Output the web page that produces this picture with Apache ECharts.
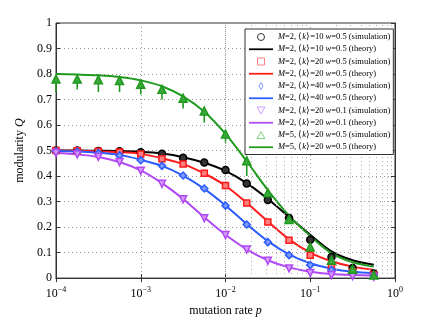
<!DOCTYPE html>
<html>
<head>
<meta charset="utf-8">
<script src="https://cdn.jsdelivr.net/npm/echarts@6/dist/echarts.min.js"></script>
<style>
  html, body { margin: 0; background: #fff; }
  #chart { width: 436px; height: 322px; }
</style>
</head>
<body>
<div id="chart"></div>
<script>
// mutation rates p (quarter-decade steps)
const rates = [1e-4, 1.78e-4, 3.16e-4, 5.62e-4, 1e-3, 1.78e-3, 3.16e-3, 5.62e-3,
  1e-2, 1.78e-2, 3.16e-2, 5.62e-2, 0.1, 0.178, 0.316, 0.562];

// M=2, <k>=10, w=0.5
const k10Sim = [0.5, 0.5, 0.498, 0.497, 0.493, 0.487, 0.472, 0.453, 0.424, 0.371, 0.306, 0.236, 0.15, 0.083, 0.04, 0.018];
const k10Th = [0.5, 0.5, 0.499, 0.498, 0.495, 0.488, 0.474, 0.452, 0.42, 0.372, 0.31, 0.24, 0.17, 0.105, 0.07, 0.052];
// M=2, <k>=20, w=0.5
const k20Sim = [0.5, 0.499, 0.497, 0.494, 0.486, 0.468, 0.447, 0.411, 0.363, 0.294, 0.22, 0.148, 0.09, 0.045, 0.025, 0.012];
const k20Th = [0.5, 0.499, 0.497, 0.494, 0.487, 0.47, 0.447, 0.41, 0.362, 0.295, 0.222, 0.152, 0.1, 0.066, 0.045, 0.032];
// M=2, <k>=40, w=0.5
const k40Sim = [0.497, 0.495, 0.49, 0.481, 0.462, 0.44, 0.402, 0.351, 0.284, 0.21, 0.141, 0.09, 0.051, 0.032, 0.017, 0.01];
const k40Th = [0.498, 0.496, 0.491, 0.483, 0.464, 0.44, 0.402, 0.35, 0.285, 0.212, 0.145, 0.093, 0.058, 0.037, 0.025, 0.02];
// M=2, <k>=20, w=0.1
const w01Sim = [0.49, 0.485, 0.475, 0.455, 0.421, 0.37, 0.309, 0.235, 0.169, 0.112, 0.068, 0.038, 0.02, 0.012, 0.008, 0.005];
const w01Th = [0.49, 0.485, 0.475, 0.455, 0.422, 0.372, 0.31, 0.238, 0.17, 0.113, 0.07, 0.042, 0.025, 0.016, 0.012, 0.01];
// M=5, <k>=20, w=0.5 (with lower error bar)
const m5Sim = [0.78, 0.78, 0.778, 0.775, 0.76, 0.74, 0.705, 0.655, 0.565, 0.46, 0.335, 0.23, 0.122, 0.07, 0.035, 0.012];
const m5Low = [0.73, 0.74, 0.73, 0.73, 0.72, 0.70, 0.665, 0.61, 0.53, 0.40, 0.31, 0.22, 0.115, 0.065, 0.03, 0.01];
const m5Th = [0.8, 0.798, 0.795, 0.788, 0.775, 0.752, 0.712, 0.652, 0.565, 0.458, 0.345, 0.245, 0.165, 0.098, 0.062, 0.045];

const minorX = [];
for (let e = -4; e < 0; e++) {
  for (let m = 2; m <= 9; m++) minorX.push(m * Math.pow(10, e));
}

const colors = {
  black: '#000000',
  red: '#ff1a1a',
  blue: '#2b5cff',
  purple: '#b048f4',
  green: '#1f9a1f'
};
const light = {
  black: '#333333',
  red: '#ff8080',
  blue: '#7f9cff',
  purple: '#d49cff',
  green: '#7fd07f'
};

const icons = {
  circle: 'path://M5,0A5,5 0 1,1 4.99,0Z',
  square: 'path://M0,0H10V10H0Z',
  diamond: 'path://M5,0L9,7L5,14L1,7Z',
  down: 'path://M0,0H10L5,9Z',
  up: 'path://M5,0L10,9H0Z',
  line: 'path://M0,0H30V2.2H0Z'
};

const pair = (ys) => rates.map((r, i) => [r, ys[i]]);
const serif = 'Liberation Serif, Times New Roman, serif';

const labels = {
  k10s: '{i|M}=2, ⟨{i|k}⟩=10 {i|w}=0.5 (simulation)',
  k10t: '{i|M}=2, ⟨{i|k}⟩=10 {i|w}=0.5 (theory)',
  k20s: '{i|M}=2, ⟨{i|k}⟩=20 {i|w}=0.5 (simulation)',
  k20t: '{i|M}=2, ⟨{i|k}⟩=20 {i|w}=0.5 (theory)',
  k40s: '{i|M}=2, ⟨{i|k}⟩=40 {i|w}=0.5 (simulation)',
  k40t: '{i|M}=2, ⟨{i|k}⟩=40 {i|w}=0.5 (theory)',
  w01s: '{i|M}=2, ⟨{i|k}⟩=20 {i|w}=0.1 (simulation)',
  w01t: '{i|M}=2, ⟨{i|k}⟩=20 {i|w}=0.1 (theory)',
  m5s: '{i|M}=5, ⟨{i|k}⟩=20 {i|w}=0.5 (simulation)',
  m5t: '{i|M}=5, ⟨{i|k}⟩=20 {i|w}=0.5 (theory)'
};

function simLegend(name, icon, c) {
  return { name: name, icon: icon, itemStyle: { color: 'none', borderColor: light[c], borderWidth: 1 } };
}
function thLegend(name, c) {
  return { name: name, icon: icons.line, itemStyle: { color: colors[c], borderWidth: 0 } };
}

function simSeries(name, symbol, c, ys, size, fill) {
  return {
    name: name,
    type: 'scatter',
    symbol: symbol,
    symbolSize: size || 6,
    z: 5,
    itemStyle: { color: fill || light[c], borderColor: colors[c], borderWidth: 1.5, opacity: 1 },
    data: pair(ys)
  };
}

function theorySeries(name, c, ys) {
  return {
    name: name,
    type: 'line',
    symbol: 'none',
    smooth: 0.3,
    z: 3,
    lineStyle: { color: colors[c], width: 2 },
    itemStyle: { color: colors[c] },
    data: pair(ys)
  };
}

const chart = echarts.init(document.getElementById('chart'));

chart.setOption({
  animation: false,
  backgroundColor: '#fff',
  grid: { left: 56, right: 41, top: 23, bottom: 36, show: true, borderColor: '#333', borderWidth: 1 },
  xAxis: [{
    type: 'log',
    min: 1e-4,
    max: 1,
    logBase: 10,
    name: 'mutation rate {i|p}',
    nameLocation: 'middle',
    nameGap: 22,
    nameTextStyle: {
      fontFamily: serif, fontSize: 12, color: '#000',
      rich: { i: { fontFamily: serif, fontSize: 12, fontStyle: 'italic', color: '#000' } }
    },
    axisLine: { lineStyle: { color: '#333' } },
    axisTick: { inside: true, length: 4, lineStyle: { color: '#333' } },
    splitLine: { show: true, lineStyle: { color: '#999', type: [1, 3] } },
    axisLabel: {
      margin: 8,
      color: '#000',
      fontFamily: serif,
      fontSize: 12,
      formatter: (v) => '10{s|' + Math.round(Math.log10(v)).toString().replace('-', '−') + '}',
      rich: { s: { fontFamily: serif, fontSize: 8, color: '#000', verticalAlign: 'top', padding: [0, 0, 8, 0] } }
    }
  }, {
    type: 'log',
    position: 'top',
    min: 1e-4,
    max: 1,
    axisLine: { lineStyle: { color: '#333' } },
    axisTick: { inside: true, length: 4, lineStyle: { color: '#333' } },
    axisLabel: { show: false },
    splitLine: { show: false }
  }],
  yAxis: [{
    type: 'value',
    min: 0,
    max: 1,
    interval: 0.1,
    name: 'modularity {i|Q}',
    nameLocation: 'middle',
    nameGap: 28,
    nameRotate: 90,
    nameTextStyle: {
      fontFamily: serif, fontSize: 12, color: '#000',
      rich: { i: { fontFamily: serif, fontSize: 12, fontStyle: 'italic', color: '#000' } }
    },
    axisLine: { show: true, lineStyle: { color: '#333' } },
    axisTick: { show: true, inside: true, length: 4, lineStyle: { color: '#333' } },
    splitLine: { show: true, lineStyle: { color: '#999', type: [1, 3] } },
    axisLabel: { margin: 4, color: '#000', fontFamily: serif, fontSize: 12 }
  }, {
    type: 'value',
    position: 'right',
    min: 0,
    max: 1,
    interval: 0.1,
    axisLine: { show: true, lineStyle: { color: '#333' } },
    axisTick: { show: true, inside: true, length: 4, lineStyle: { color: '#333' } },
    axisLabel: { show: false },
    splitLine: { show: false }
  }],
  legend: {
    orient: 'vertical',
    left: 245,
    top: 29,
    padding: [2, 3, 2, 4],
    itemWidth: 24,
    itemHeight: 7,
    itemGap: 1,
    backgroundColor: '#fff',
    borderColor: '#333',
    borderWidth: 1,
    z: 20,
    data: [
      simLegend('k10s', icons.circle, 'black'), thLegend('k10t', 'black'),
      simLegend('k20s', icons.square, 'red'), thLegend('k20t', 'red'),
      simLegend('k40s', icons.diamond, 'blue'), thLegend('k40t', 'blue'),
      simLegend('w01s', icons.down, 'purple'), thLegend('w01t', 'purple'),
      simLegend('m5s', icons.up, 'green'), thLegend('m5t', 'green')
    ],
    formatter: (name) => labels[name],
    textStyle: {
      fontFamily: serif, fontSize: 8.5, lineHeight: 10.5, color: '#000',
      rich: { i: { fontFamily: serif, fontSize: 8.5, lineHeight: 10.5, fontStyle: 'italic', color: '#000' } }
    }
  },
  series: [
    // minor grid lines at 2..9 x 10^n
    {
      type: 'line',
      data: [],
      silent: true,
      markLine: {
        symbol: 'none',
        silent: true,
        label: { show: false },
        lineStyle: { color: '#aaa', type: [1, 3], width: 1 },
        data: minorX.map((v) => ({ xAxis: v }))
      }
    },
    simSeries('k10s', 'circle', 'black', k10Sim, 7),
    theorySeries('k10t', 'black', k10Th),
    simSeries('k20s', 'rect', 'red', k20Sim),
    theorySeries('k20t', 'red', k20Th),
    simSeries('k40s', 'diamond', 'blue', k40Sim, 7),
    theorySeries('k40t', 'blue', k40Th),
    simSeries('w01s', icons.down, 'purple', w01Sim, 7),
    theorySeries('w01t', 'purple', w01Th),
    {
      type: 'custom',
      z: 4,
      silent: true,
      renderItem: (params, api) => {
        const x = api.value(0);
        const p1 = api.coord([x, api.value(1)]);
        const p2 = api.coord([x, api.value(2)]);
        return {
          type: 'line',
          shape: { x1: p1[0], y1: p1[1], x2: p2[0], y2: p2[1] },
          style: { stroke: colors.green, lineWidth: 1.6 }
        };
      },
      data: rates.map((r, i) => [r, m5Sim[i], m5Low[i]])
    },
    simSeries('m5s', icons.up, 'green', m5Sim, 8, '#3aa83a'),
    theorySeries('m5t', 'green', m5Th)
  ]
});
</script>
</body>
</html>
